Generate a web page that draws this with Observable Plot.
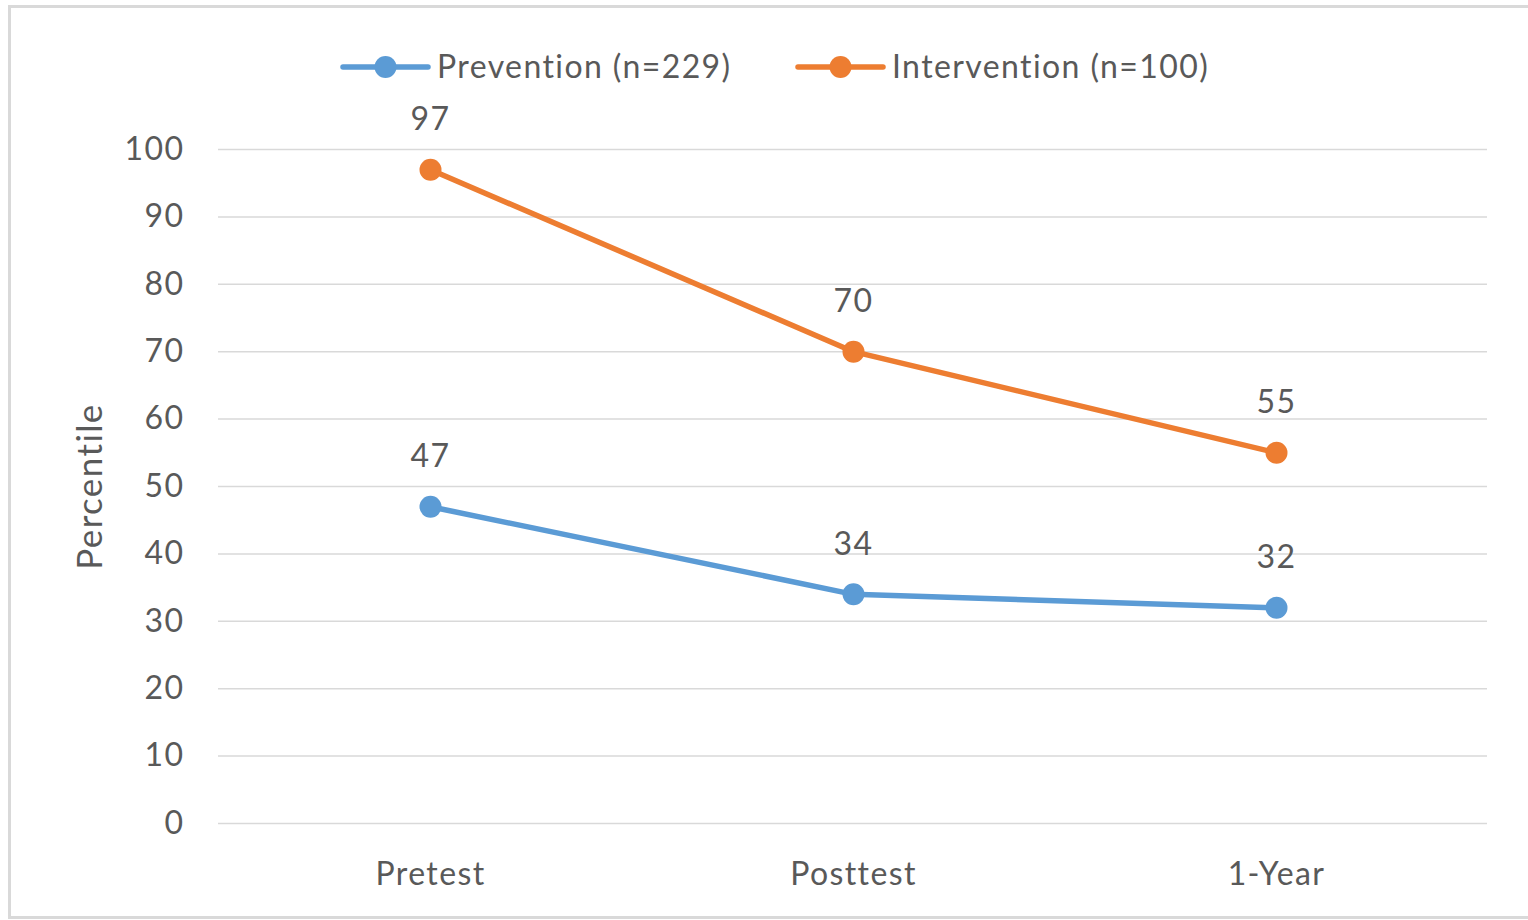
<!DOCTYPE html>
<html>
<head>
<meta charset="utf-8">
<script src="https://cdn.jsdelivr.net/npm/d3@7"></script>
<script src="https://cdn.jsdelivr.net/npm/@observablehq/plot@0.6"></script>
<style>
  html, body { margin: 0; padding: 0; background: #fff; overflow: hidden; }
  #wrap { position: relative; width: 1528px; height: 920px; }
  #frame { position: absolute; left: 8px; top: 5px; width: 1530px; height: 914px; border: 3px solid #d9d9d9; box-sizing: border-box; }
  #chart { position: absolute; left: 0; top: 0; }
  #legend { position: absolute; left: 0; top: 0; }
</style>
</head>
<body>
<div id="wrap">
  <div id="frame"></div>
  <div id="chart"></div>
  <svg id="legend" width="1528" height="110"></svg>
</div>
<script>
const categories = ["Pretest", "Posttest", "1-Year"];
const prevention = [47, 34, 32];
const intervention = [97, 70, 55];
const seriesNames = ["Prevention (n=229)", "Intervention (n=100)"];
const seriesColors = ["#5B9BD5", "#ED7D31"];
const yTicks = [0, 10, 20, 30, 40, 50, 60, 70, 80, 90, 100];

const data = [];
categories.forEach((c, i) => {
  data.push({ cat: c, value: prevention[i], series: seriesNames[0] });
  data.push({ cat: c, value: intervention[i], series: seriesNames[1] });
});

const font = "Lato, 'Open Sans', sans-serif";
const textColor = "#595959";

const chart = Plot.plot({
  width: 1528,
  height: 920,
  marginTop: 149,
  marginBottom: 97,
  marginLeft: 218,
  marginRight: 41,
  style: { fontFamily: font, background: "transparent", color: textColor, letterSpacing: "1.4px" },
  x: { type: "point", domain: categories, padding: 0.5 },
  y: { domain: [0, 100] },
  color: { domain: seriesNames, range: seriesColors },
  marks: [
    Plot.ruleY(yTicks, { stroke: "#d9d9d9", strokeWidth: 1.5 }),
    Plot.axisY({ ticks: yTicks, tickSize: 0, tickPadding: 34, fontSize: 32, label: null, fill: textColor }),
    Plot.axisX({ tickSize: 0, tickPadding: 39, fontSize: 32, label: null, fill: textColor }),
    Plot.text(["Percentile"], { frameAnchor: "left", textAnchor: "middle", dx: -128, rotate: -90, fontSize: 35, fill: textColor }),
    Plot.line(data, { x: "cat", y: "value", z: "series", stroke: "series", strokeWidth: 5.5 }),
    Plot.dot(data, { x: "cat", y: "value", fill: "series", r: 11, stroke: "none" }),
    Plot.text(data, { x: "cat", y: "value", text: d => String(d.value), dy: -50, fontSize: 32, fill: textColor, lineAnchor: "middle" })
  ]
});
document.getElementById("chart").appendChild(chart);

// Legend
const legend = d3.select("#legend");
const items = [
  { name: seriesNames[0], color: seriesColors[0], x0: 343 },
  { name: seriesNames[1], color: seriesColors[1], x0: 798 }
];
items.forEach(it => {
  const g = legend.append("g");
  g.append("line").attr("x1", it.x0).attr("x2", it.x0 + 85).attr("y1", 67).attr("y2", 67)
    .attr("stroke", it.color).attr("stroke-width", 5.5).attr("stroke-linecap", "round");
  g.append("circle").attr("cx", it.x0 + 42.5).attr("cy", 67).attr("r", 11).attr("fill", it.color);
  g.append("text").attr("x", it.x0 + 94).attr("y", 67).attr("dy", "0.35em")
    .attr("font-family", font).attr("font-size", 32).attr("letter-spacing", "1.4px")
    .attr("fill", textColor).text(it.name);
});
</script>
</body>
</html>
